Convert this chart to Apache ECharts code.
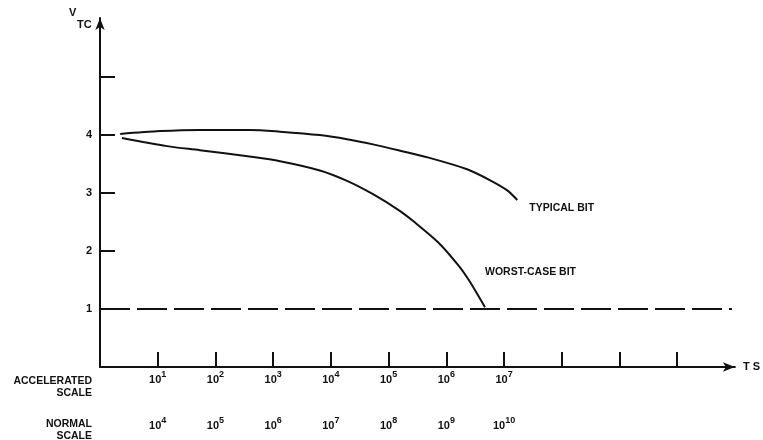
<!DOCTYPE html>
<html><head><meta charset="utf-8">
<script src="https://cdn.jsdelivr.net/npm/echarts@6/dist/echarts.min.js"></script>
<style>html,body{margin:0;padding:0;background:#fff}#c{width:763px;height:440px}</style>
</head><body><div id="c"></div>
<script>
// x = log10(accelerated time), y = V_TC
const typicalBit = [[0.35,4.02],[1.04,4.07],[1.73,4.09],[2.59,4.09],[3.12,4.06],[3.81,4.00],[4.28,3.93],[4.73,3.84],[5.20,3.73],[5.77,3.59],[6.36,3.41],[6.76,3.22],[7.05,3.05],[7.23,2.88]];
const worstCaseBit = [[0.38,3.95],[1.16,3.81],[1.73,3.74],[2.59,3.63],[3.12,3.55],[3.81,3.39],[4.28,3.21],[4.73,2.98],[5.20,2.69],[5.41,2.53],[5.87,2.14],[6.22,1.74],[6.39,1.50],[6.56,1.22],[6.67,1.03]];
const thresholdLine = [[0,1],[10.95,1]];
const xTicks = [1,2,3,4,5,6,7,8,9,10];
const labelTicks = [1,2,3,4,5,6,7];
const acceleratedExp = ['1','2','3','4','5','6','7'];
const normalExp = ['4','5','6','7','8','9','10'];
const yTicks = [1,2,3,4,5];
const yLabels = [1,2,3,4];

const FONT = 'Liberation Sans';
const chart = echarts.init(document.getElementById('c'));
const richSup = {
  b: {fontFamily: FONT, fontWeight: 'bold', fontSize: 11, color: '#111', lineHeight: 15, verticalAlign: 'bottom'},
  s: {fontFamily: FONT, fontWeight: 'bold', fontSize: 9, color: '#111', lineHeight: 15, verticalAlign: 'top'}
};
const baseX = {
  type: 'value', min: 0, max: 11, position: 'bottom', splitLine: {show: false}
};
chart.setOption({
  animation: false,
  grid: {left: 100, right: 28, top: 18, bottom: 73},
  xAxis: [
    Object.assign({}, baseX, {
      axisLine: {lineStyle: {color: '#111', width: 2}, symbol: ['none','arrow'], symbolSize: [7,12]},
      axisTick: {inside: true, length: 15, lineStyle: {color: '#111', width: 2}, customValues: xTicks},
      axisLabel: {customValues: labelTicks, margin: 3,
        formatter: v => '{b|10}{s|' + acceleratedExp[labelTicks.indexOf(v)] + '}', rich: richSup},
      name: 'T S', nameLocation: 'end', nameGap: 8,
      nameTextStyle: {fontFamily: FONT, fontWeight: 'bold', fontSize: 11, color: '#111'}
    }),
    Object.assign({}, baseX, {
      offset: 46,
      axisLine: {show: false},
      axisTick: {show: false},
      axisLabel: {customValues: labelTicks, margin: 3,
        formatter: v => '{b|10}{s|' + normalExp[labelTicks.indexOf(v)] + '}', rich: richSup}
    })
  ],
  yAxis: {
    type: 'value', min: 0, max: 6.02,
    splitLine: {show: false},
    axisLine: {lineStyle: {color: '#111', width: 2}, symbol: ['none','arrow'], symbolSize: [7,12]},
    axisTick: {inside: true, length: 15, lineStyle: {color: '#111', width: 2}, customValues: yTicks},
    axisLabel: {customValues: yLabels, margin: 8, fontFamily: FONT, fontWeight: 'bold', fontSize: 11, color: '#111'}
  },
  graphic: [
    {type: 'text', x: 69, y: 7, style: {text: 'V', fontFamily: FONT, fontWeight: 'bold', fontSize: 11, fill: '#111'}},
    {type: 'text', x: 77, y: 19, style: {text: 'TC', fontFamily: FONT, fontWeight: 'bold', fontSize: 11, fill: '#111'}},
    {type: 'text', x: 92, y: 375, style: {text: 'ACCELERATED\nSCALE', align: 'right', fontFamily: FONT, fontWeight: 'bold', fontSize: 10.5, lineHeight: 12, fill: '#111'}},
    {type: 'text', x: 92, y: 418, style: {text: 'NORMAL\nSCALE', align: 'right', fontFamily: FONT, fontWeight: 'bold', fontSize: 10.5, lineHeight: 12, fill: '#111'}}
  ],
  series: [
    {name: 'TYPICAL BIT', type: 'line', data: typicalBit, smooth: 0.3, showSymbol: false,
     lineStyle: {color: '#111', width: 2},
     endLabel: {show: true, formatter: 'TYPICAL BIT', offset: [4, 8], fontFamily: FONT, fontWeight: 'bold', fontSize: 10.5, color: '#111'}},
    {name: 'WORST-CASE BIT', type: 'line', data: worstCaseBit, smooth: 0.3, showSymbol: false,
     lineStyle: {color: '#111', width: 2},
     endLabel: {show: true, formatter: 'WORST-CASE BIT', offset: [-8, -35], fontFamily: FONT, fontWeight: 'bold', fontSize: 10.5, color: '#111'}},
    {name: 'threshold', type: 'line', data: thresholdLine, showSymbol: false,
     lineStyle: {color: '#111', width: 2, type: [30, 7]}}
  ]
});
</script></body></html>
